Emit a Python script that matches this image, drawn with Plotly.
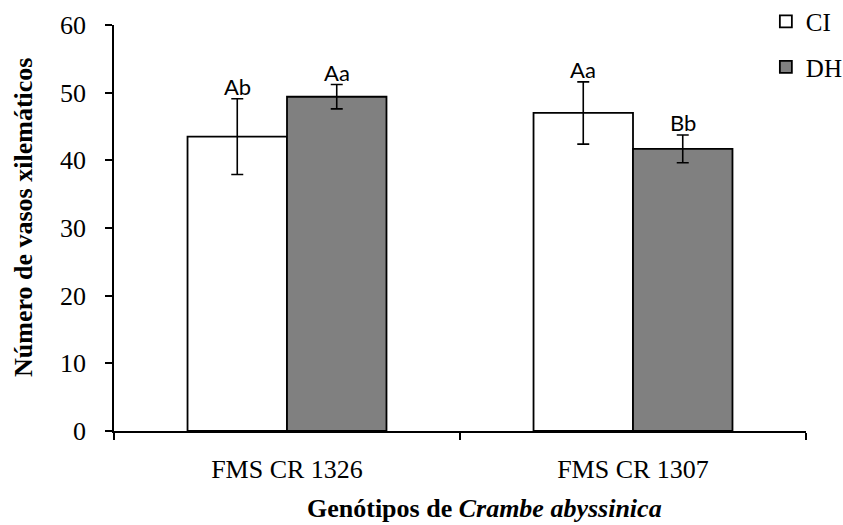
import plotly.graph_objects as go

# Genotypes on the x axis
genotypes = ["FMS CR 1326", "FMS CR 1307"]

# Mean number of xylem vessels per treatment and their error bars
ci_values = [43.5, 47.0]
ci_errors = [5.6, 4.6]
dh_values = [49.4, 41.7]
dh_errors = [1.8, 2.05]

# Significance letters above each bar
ci_letters = ["Ab", "Aa"]
dh_letters = ["Aa", "Bb"]

serif = "Liberation Serif, Times New Roman, serif"
bargap = 0.425

fig = go.Figure()
fig.add_trace(go.Bar(
    name="CI", x=genotypes, y=ci_values, legendgroup="ci",
    marker=dict(color="white", line=dict(color="black", width=1.8)),
    error_y=dict(type="data", array=ci_errors, color="black", thickness=1.6, width=6),
))
fig.add_trace(go.Bar(
    name="DH", x=genotypes, y=dh_values, legendgroup="dh",
    marker=dict(color="#808080", line=dict(color="black", width=1.8)),
    error_y=dict(type="data", array=dh_errors, color="black", thickness=1.6, width=6),
))

# letters sit just above the error bar caps
half = (1 - bargap) / 4
for i in range(len(genotypes)):
    for shift, vals, errs, letters in ((-half, ci_values, ci_errors, ci_letters),
                                       (half, dh_values, dh_errors, dh_letters)):
        fig.add_annotation(
            x=i + shift, y=vals[i] + errs[i], text=letters[i],
            showarrow=False, yanchor="bottom", yshift=-3,
            font=dict(family="Lato, Open Sans, sans-serif", size=22, color="black"),
        )

# axis titles
fig.add_annotation(
    xref="paper", yref="paper", x=(484 - 114) / 692, y=-(508 - 431) / 406,
    text="<b>Genótipos de <i>Crambe abyssinica</i></b>", showarrow=False,
    xanchor="center", yanchor="middle",
    font=dict(family=serif, size=26, color="black"),
)
fig.add_annotation(
    xref="paper", yref="paper", x=-(114 - 23) / 692, y=(431 - 218) / 406,
    text="<b>Número de vasos xilemáticos</b>", showarrow=False, textangle=-90,
    xanchor="center", yanchor="middle",
    font=dict(family=serif, size=26, color="black"),
)

fig.update_layout(
    width=843, height=525,
    margin=dict(l=114, r=37, t=25, b=94, autoexpand=False),
    paper_bgcolor="white", plot_bgcolor="white",
    barmode="group", bargap=bargap, bargroupgap=0,
    font=dict(family=serif, color="black"),
    showlegend=True,
    legend=dict(
        x=0.942, y=1.065, xanchor="left", yanchor="top",
        font=dict(family=serif, size=25, color="black"),
        tracegroupgap=10, bgcolor="rgba(0,0,0,0)",
    ),
    xaxis=dict(
        range=[-0.5, 1.5], showline=True, linecolor="black", linewidth=1.5,
        ticks="outside", tickson="boundaries", ticklen=7, tickwidth=1.5, tickcolor="black",
        tickfont=dict(family=serif, size=26, color="black"), ticklabelstandoff=14,
        showgrid=False, zeroline=False, automargin=False,
    ),
    yaxis=dict(
        range=[0, 60], dtick=10, showline=True, linecolor="black", linewidth=1.5,
        ticks="outside", ticklen=7, tickwidth=1.5, tickcolor="black",
        tickfont=dict(family=serif, size=26, color="black"), ticklabelstandoff=14,
        showgrid=False, zeroline=False, automargin=False,
    ),
)

fig.write_html("out.html")
